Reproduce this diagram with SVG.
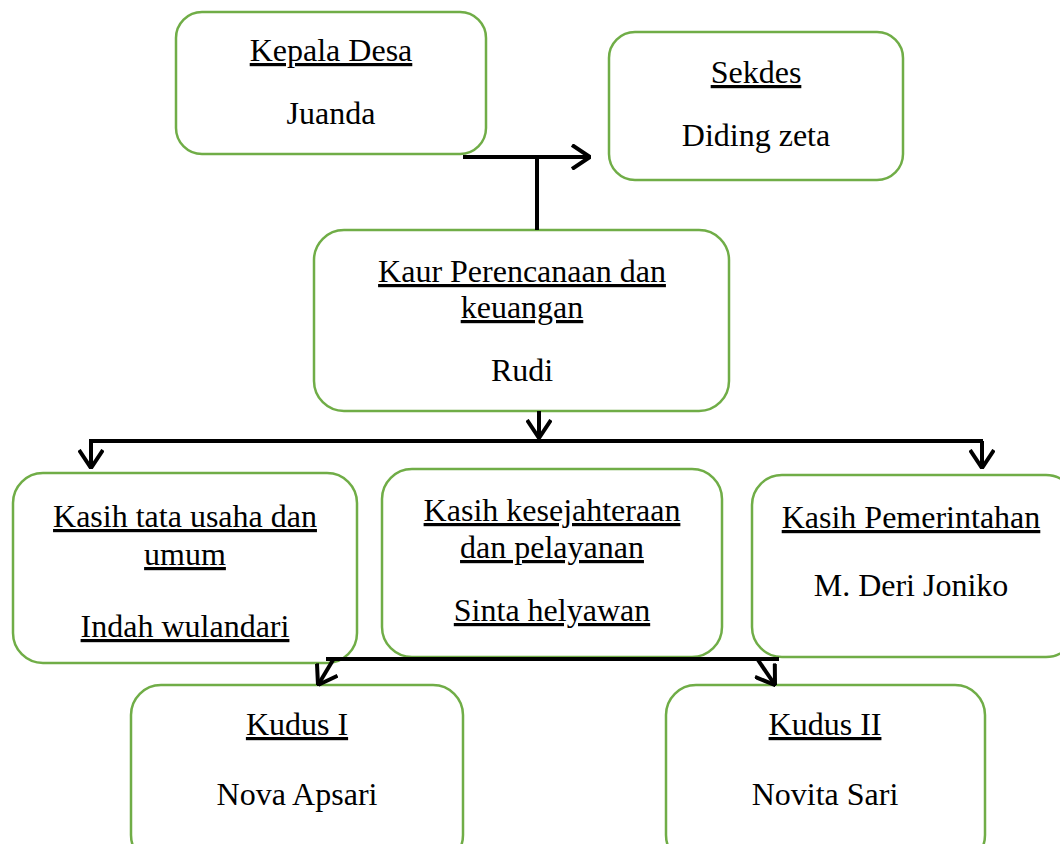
<svg xmlns="http://www.w3.org/2000/svg" width="1060" height="844" viewBox="0 0 1060 844">
<defs>
<style>
.box{fill:#fff;stroke:#70AD47;stroke-width:2.5}
.t{font-family:"Liberation Serif","Times New Roman",serif;font-size:32px;fill:#000;text-anchor:middle}
.u{text-decoration:underline}
.c{fill:none;stroke:#000;stroke-width:4}
</style>
<marker id="ah" markerUnits="userSpaceOnUse" viewBox="0 0 20 26" refX="19" refY="13" markerWidth="20" markerHeight="26" orient="auto">
<path d="M1,1 L19,13 L1,25" fill="none" stroke="#000" stroke-width="4"/>
</marker>
</defs>
<rect width="1060" height="844" fill="#fff"/>
<g id="kepala">
<rect class="box" x="176" y="12" width="310" height="142" rx="26"/>
<text class="t u" x="331" y="61">Kepala Desa</text>
<text class="t" x="331" y="124">Juanda</text>
</g>
<g id="sekdes">
<rect class="box" x="609" y="32" width="294" height="148" rx="26"/>
<text class="t u" x="756" y="83">Sekdes</text>
<text class="t" x="756" y="146">Diding zeta</text>
</g>
<g id="kaur">
<rect class="box" x="314" y="230" width="415" height="181" rx="30"/>
<text class="t u" x="522" y="282">Kaur Perencanaan dan</text>
<text class="t u" x="522" y="318">keuangan</text>
<text class="t" x="522" y="381">Rudi</text>
</g>
<g id="kasih-tu">
<rect class="box" x="13" y="473" width="344" height="190" rx="30"/>
<text class="t u" x="185" y="527">Kasih tata usaha dan</text>
<text class="t u" x="185" y="565">umum</text>
<text class="t u" x="185" y="637">Indah wulandari</text>
</g>
<g id="kasih-kes">
<rect class="box" x="382" y="469" width="340" height="188" rx="30"/>
<text class="t u" x="552" y="521">Kasih kesejahteraan</text>
<text class="t u" x="552" y="558">dan pelayanan</text>
<text class="t u" x="552" y="621">Sinta helyawan</text>
</g>
<g id="kasih-pem">
<rect class="box" x="752" y="475" width="324" height="182" rx="30"/>
<text class="t u" x="911" y="528">Kasih Pemerintahan</text>
<text class="t" x="911" y="596">M. Deri Joniko</text>
</g>
<g id="kudus1">
<rect class="box" x="131" y="685" width="332" height="180" rx="30"/>
<text class="t u" x="297" y="735">Kudus I</text>
<text class="t" x="297" y="805">Nova Apsari</text>
</g>
<g id="kudus2">
<rect class="box" x="666" y="685" width="319" height="180" rx="30"/>
<text class="t u" x="825" y="735">Kudus II</text>
<text class="t" x="825" y="805">Novita Sari</text>
</g>
<g id="connectors">
<path class="c" d="M463,157 H590" marker-end="url(#ah)"/>
<path class="c" d="M537,157 V230"/>
<path class="c" d="M539,411 V438" marker-end="url(#ah)"/>
<path class="c" d="M89,441 H983"/>
<path class="c" d="M91,441 V468" marker-end="url(#ah)"/>
<path class="c" d="M982,441 V468" marker-end="url(#ah)"/>
<path class="c" d="M326,659 H779"/>
<path class="c" d="M333,660 L318,685" marker-end="url(#ah)"/>
<path class="c" d="M758,660 L775,685" marker-end="url(#ah)"/>
</g>
</svg>
